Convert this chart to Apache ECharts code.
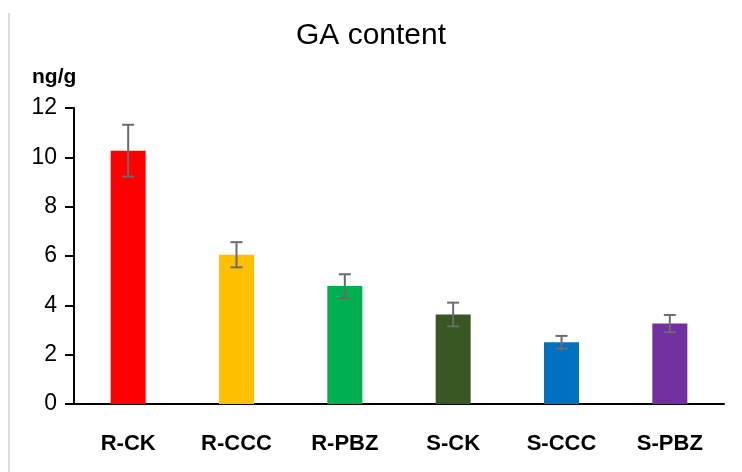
<!DOCTYPE html>
<html>
<head>
<meta charset="utf-8">
<title>GA content</title>
<script src="https://cdn.jsdelivr.net/npm/echarts@6/dist/echarts.min.js"></script>
<style>
  html, body { margin: 0; padding: 0; background: #fff; }
  #container { width: 742px; height: 472px; }
</style>
</head>
<body>
<div id="container"></div>
<script>
// groups on the x axis
var groups = ['R-CK', 'R-CCC', 'R-PBZ', 'S-CK', 'S-CCC', 'S-PBZ'];
// mean GA content, ng/g
var means = [10.27, 6.05, 4.78, 3.63, 2.50, 3.26];
// error bar half length
var errors = [1.05, 0.51, 0.48, 0.48, 0.26, 0.35];
var barColors = ['#FF0000', '#FFC000', '#00B050', '#385723', '#0070C0', '#7030A0'];
var yTicks = [0, 2, 4, 6, 8, 10, 12];

var chart = echarts.init(document.getElementById('container'));

var errData = groups.map(function (g, i) {
    return [i, means[i] - errors[i], means[i] + errors[i]];
});

var option = {
    animation: false,
    backgroundColor: '#fff',
    title: {
        text: 'GA content',
        left: 'center',
        top: 16,
        textStyle: {
            fontFamily: 'Liberation Sans, Arial',
            fontSize: 30,
            fontWeight: 'normal',
            color: '#000'
        }
    },
    grid: {
        left: 74,
        right: 18,
        top: 108,
        bottom: 68
    },
    xAxis: {
        type: 'category',
        data: groups,
        axisLine: { lineStyle: { color: '#000', width: 2 } },
        axisTick: { alignWithLabel: true, length: 8, lineStyle: { color: '#000', width: 2 } },
        axisLabel: {
            margin: 29,
            color: '#000',
            fontFamily: 'Liberation Sans, Arial',
            fontSize: 22,
            fontWeight: 'bold'
        }
    },
    yAxis: {
        type: 'value',
        min: 0,
        max: yTicks[yTicks.length - 1],
        interval: 2,
        axisLine: { show: true, lineStyle: { color: '#000', width: 2 } },
        axisTick: { show: true, length: 9, lineStyle: { color: '#000', width: 2 } },
        splitLine: { show: false },
        axisLabel: {
            margin: 17,
            color: '#000',
            fontFamily: 'Liberation Sans, Arial',
            fontSize: 23
        }
    },
    graphic: [
        { // faint frame line on the left
            type: 'line',
            shape: { x1: 9, y1: 13, x2: 9, y2: 472 },
            style: { stroke: '#dcdcdc', lineWidth: 2 }
        },
        { // x axis runs a bit past the y axis
            type: 'line',
            shape: { x1: 65, y1: 404, x2: 75, y2: 404 },
            style: { stroke: '#000', lineWidth: 2 }
        },
        {
            type: 'text',
            left: 32,
            top: 67,
            style: {
                text: 'ng/g',
                font: 'bold 21px "Liberation Sans", Arial',
                fill: '#000'
            }
        }
    ],
    series: [
        {
            type: 'bar',
            barWidth: 35,
            data: means.map(function (v, i) {
                return { value: v, itemStyle: { color: barColors[i] } };
            })
        },
        {
            type: 'custom',
            data: errData,
            z: 10,
            renderItem: function (params, api) {
                var x = api.value(0);
                var lo = api.coord([x, api.value(1)]);
                var hi = api.coord([x, api.value(2)]);
                var half = 6;
                var style = { stroke: '#6b6b6b', lineWidth: 2 };
                return {
                    type: 'group',
                    children: [
                        { type: 'line', shape: { x1: lo[0], y1: lo[1], x2: hi[0], y2: hi[1] }, style: style },
                        { type: 'line', shape: { x1: hi[0] - half, y1: hi[1], x2: hi[0] + half, y2: hi[1] }, style: style },
                        { type: 'line', shape: { x1: lo[0] - half, y1: lo[1], x2: lo[0] + half, y2: lo[1] }, style: style }
                    ]
                };
            }
        }
    ]
};

chart.setOption(option);
</script>
</body>
</html>
